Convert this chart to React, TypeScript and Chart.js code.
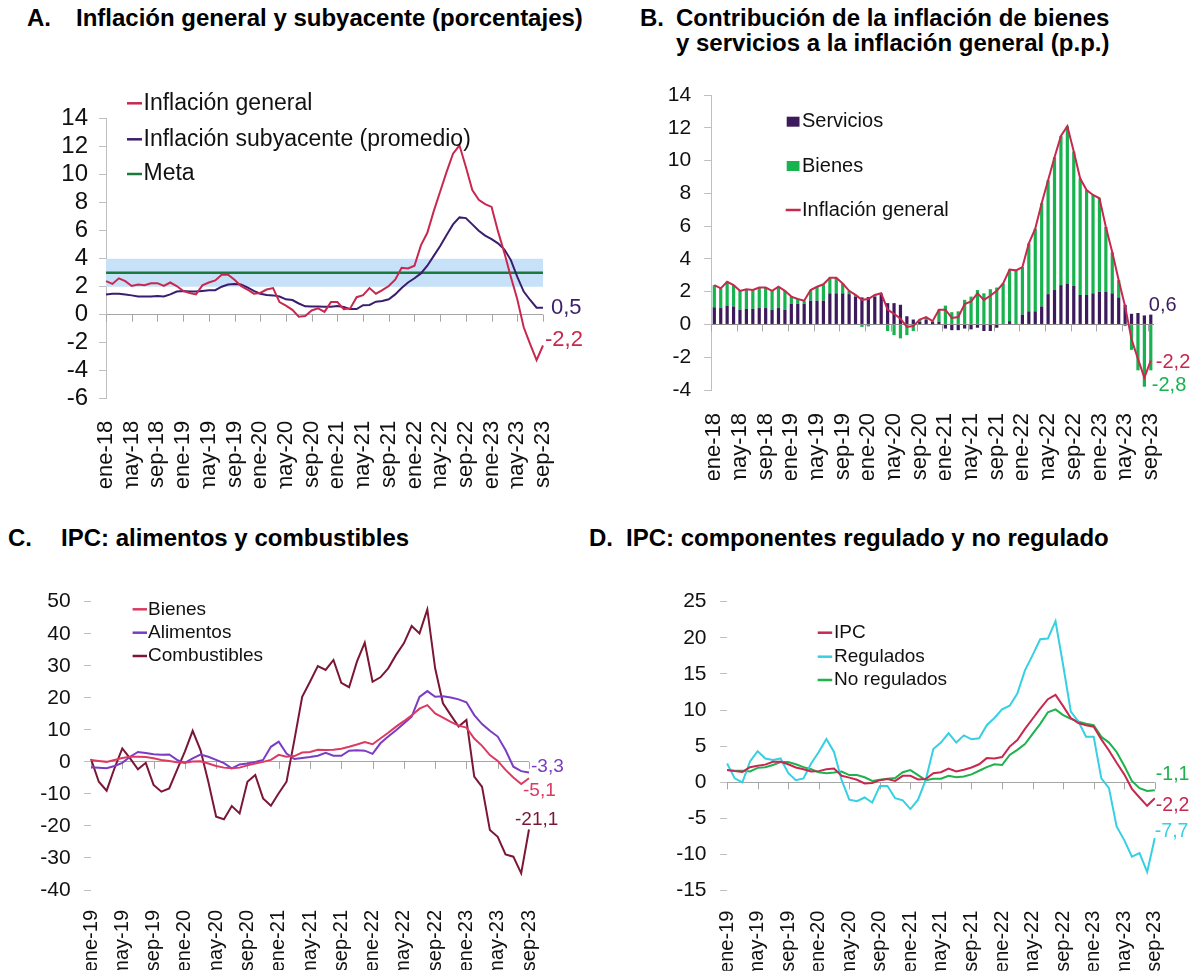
import React, { useEffect, useRef } from 'react';
import { Chart, registerables } from 'chart.js';

Chart.register(...registerables);

const FONT = '"Liberation Sans", Arial, Helvetica, sans-serif';

// ---------- categories ----------
const MONTH_ABBR = ['ene', 'feb', 'mar', 'abr', 'may', 'jun', 'jul', 'ago', 'sep', 'oct', 'nov', 'dic'];
function buildMonths(startYear: number, endYear: number, endMonthIdx: number): string[] {
  const out: string[] = [];
  for (let y = startYear; y <= endYear; y++) {
    const last = y === endYear ? endMonthIdx : 11;
    for (let m = 0; m <= last; m++) out.push(`${MONTH_ABBR[m]}-${String(y).slice(2)}`);
  }
  return out;
}
const monthsAB = buildMonths(2018, 2023, 8); // ene-18 .. sep-23
const monthsCD = buildMonths(2019, 2023, 8); // ene-19 .. sep-23

// ---------- Panel A / B data ----------
const headline = [
  2.4, 2.2, 2.6, 2.4, 2.05, 2.15, 2.1, 2.25, 2.25, 2.05, 2.3, 2.05,
  1.7, 1.55, 1.45, 2.1, 2.3, 2.45, 2.85, 2.85, 2.5, 2.05, 1.8, 1.5,
  1.55, 1.8, 1.9, 0.9, 0.65, 0.35, -0.15, -0.1, 0.3, 0.45, 0.2, 0.9,
  0.9, 0.4, 0.45, 1.25, 1.4, 1.9, 1.5, 1.75, 2.05, 2.5, 3.35, 3.3,
  3.5, 4.95, 5.85, 7.4, 8.8, 10.2, 11.5, 12.1, 10.55, 8.9, 8.2, 7.9,
  7.7, 5.95, 4.4, 2.7, 1.1, -0.9, -2.1, -3.25, -2.2,
];
const core = [
  1.45, 1.5, 1.5, 1.45, 1.38, 1.3, 1.3, 1.3, 1.33, 1.3, 1.45, 1.65,
  1.7, 1.65, 1.65, 1.7, 1.75, 1.75, 2.0, 2.15, 2.2, 2.15, 1.95, 1.7,
  1.5, 1.4, 1.38, 1.3, 1.1, 1.05, 0.8, 0.6, 0.58, 0.58, 0.57, 0.57,
  0.62, 0.55, 0.4, 0.4, 0.68, 0.7, 0.93, 0.98, 1.1, 1.45, 1.9, 2.3,
  2.6, 2.95, 3.5, 4.2, 4.9, 5.7, 6.45, 6.95, 6.9, 6.45, 6.0, 5.65,
  5.4, 5.1, 4.65, 3.9, 2.7, 1.65, 1.05, 0.5, 0.5,
];
const META_TARGET = 3;
const TOLERANCE_LOW = 2;
const TOLERANCE_HIGH = 4;

const servicios = [
  1.05, 1.0, 1.15, 1.1, 0.9, 0.95, 0.95, 1.0, 1.0, 0.9, 1.0, 0.9,
  1.25, 1.25, 1.25, 1.45, 1.45, 1.45, 1.9, 1.9, 1.9, 1.85, 1.7, 1.65,
  1.67, 1.7, 1.85, 1.3, 1.3, 1.2, 0.5, 0.3, 0.15, 0.3, 0.15, 0.15,
  -0.25, -0.35, -0.35, -0.25, -0.3, -0.2, -0.4, -0.4, -0.2, 0.0, 0.2, 0.0,
  0.6, 0.8, 0.8, 1.1, 1.85, 2.1, 2.4, 2.5, 2.35, 1.8, 1.8, 1.9,
  2.0, 2.0, 1.9, 1.65, 1.2, 0.65, 0.7, 0.55, 0.6,
];
const bienesContrib = [
  1.35, 1.2, 1.45, 1.3, 1.15, 1.2, 1.15, 1.25, 1.25, 1.15, 1.3, 1.15,
  0.45, 0.3, 0.2, 0.65, 0.85, 1.0, 0.95, 0.95, 0.6, 0.2, 0.1, -0.15,
  -0.12, 0.1, 0.05, -0.4, -0.65, -0.85, -0.65, -0.4, 0.15, 0.15, 0.05, 0.75,
  1.15, 0.75, 0.8, 1.5, 1.7, 2.1, 1.9, 2.15, 2.25, 2.5, 3.15, 3.3,
  2.9, 4.15, 5.05, 6.3, 6.95, 8.1, 9.1, 9.6, 8.2, 7.1, 6.4, 6.0,
  5.7, 3.95, 2.5, 1.05, -0.1, -1.55, -2.8, -3.8, -2.8,
];

// ---------- Panel C data ----------
const bienesC = [
  0.6, 0.3, 0.0, 0.6, 1.2, 1.6, 1.6, 1.5, 1.1, 0.6, 0.3, -0.1,
  -0.3, 0.1, 0.2, -0.5, -1.3, -1.8, -2.0, -1.8, -1.1, -0.5, 0.0, 0.6,
  2.2, 1.6, 1.8, 2.9, 3.1, 3.8, 3.7, 3.8, 4.1, 4.7, 5.4, 6.2,
  5.5, 7.3, 9.1, 11.0, 12.7, 14.5, 16.6, 17.7, 15.1, 13.8, 12.5, 11.3,
  10.7, 7.3, 5.0, 2.1, 0.3, -2.5, -4.9, -6.9, -5.1,
];
const alimentos = [
  -1.7, -1.8, -2.0, -1.3, -0.3, 1.6, 3.1, 2.8, 2.4, 2.2, 2.3, 0.6,
  -0.3, 1.1, 2.3, 1.6, 0.6, -0.4, -2.0, -0.8, -0.5, 0.0, 0.6, 4.7,
  6.3, 2.6, 0.9, 1.2, 1.5, 1.9, 2.8, 1.9, 1.9, 3.5, 3.6, 3.5,
  2.5, 5.8, 7.9, 9.9, 12.0, 14.1, 20.3, 22.1, 20.3, 20.5, 20.1, 19.5,
  18.6, 14.6, 11.8, 9.7, 7.9, 3.7, -1.5, -2.9, -3.3,
];
const combustibles = [
  0.9, -6.2, -9.0, -2.0, 4.2, 1.1, -2.3, -0.3, -7.2, -9.3, -8.3, -2.5,
  3.2, 9.7, 3.7, -6.2, -17.1, -17.9, -13.8, -16.1, -6.2, -4.1, -11.4, -13.7,
  -9.8, -6.2, 6.8, 20.3, 25.0, 29.9, 28.7, 31.8, 24.7, 23.3, 31.3, 37.2,
  25.0, 26.4, 29.2, 33.4, 37.0, 42.4, 40.1, 47.6, 29.2, 18.3, 14.6, 11.0,
  13.1, -4.6, -7.8, -21.3, -23.4, -28.9, -29.6, -34.8, -21.1,
];

// ---------- Panel D data ----------
const ipc = [
  1.7, 1.55, 1.45, 2.1, 2.3, 2.45, 2.85, 2.85, 2.5, 2.05, 1.8, 1.5,
  1.55, 1.8, 1.9, 0.9, 0.65, 0.35, -0.15, -0.1, 0.3, 0.45, 0.2, 0.9,
  0.9, 0.4, 0.45, 1.25, 1.4, 1.9, 1.5, 1.75, 2.05, 2.5, 3.35, 3.3,
  3.5, 4.95, 5.85, 7.4, 8.8, 10.2, 11.5, 12.1, 10.55, 8.9, 8.2, 7.9,
  7.7, 5.95, 4.4, 2.7, 1.1, -0.9, -2.1, -3.25, -2.2,
];
const regulados = [
  2.6, 0.55, 0.0, 2.9, 4.3, 3.3, 3.1, 3.3, 1.3, 0.3, 0.55, 2.6,
  4.2, 6.0, 4.2, 0.3, -2.4, -2.6, -2.1, -2.8, -0.5, -0.5, -2.2, -2.5,
  -3.7, -2.4, 0.3, 4.6, 5.5, 6.8, 5.5, 6.5, 5.95, 6.1, 7.9, 8.9,
  10.1, 10.6, 12.3, 15.5, 17.6, 19.8, 19.9, 22.3, 16.2, 9.8, 8.4, 6.3,
  6.3, 0.55, -0.8, -6.1, -8.0, -10.3, -9.8, -12.4, -7.7,
];
const noRegulados = [
  1.7, 1.6, 1.6, 1.5, 2.0, 2.1, 2.4, 2.8, 2.8, 2.5, 2.1, 1.8,
  1.4, 1.25, 1.35, 1.5, 1.0, 1.0, 0.7, 0.2, 0.35, 0.5, 0.6, 1.4,
  1.7, 1.0, 0.3, 0.5, 0.5, 0.9, 0.7, 0.8, 1.1, 1.6, 2.1, 2.5,
  2.4, 3.8, 4.5, 5.3, 6.7, 8.1, 9.7, 10.1, 9.3, 8.8, 8.4, 8.1,
  7.9, 6.3, 5.5, 4.2, 2.3, 0.2, -0.8, -1.2, -1.1,
];

// ---------- colours ----------
const RED = '#c8284f';
const CORE_PURPLE = '#3a1d6e';
const META_GREEN = '#1b7a3b';
const BAND_BLUE = '#c7e1f9';
const SERV_PURPLE = '#3c1a5b';
const BIEN_GREEN = '#17b34f';
const C_BIEN = '#dc3a62';
const C_ALIM = '#7a3cc4';
const C_COMB = '#7b1634';
const D_REG = '#35d0e2';
const D_NOREG = '#1db24c';
const TEXT = '#111111';
const TICK_GRAY = '#bfbfbf';

const fmt = (v: number) => v.toFixed(1).replace('.', ',');

type LegendItem = { ds: number; type: 'line' | 'box'; y: number; x: number; w: number };
type OverlayCfg = {
  legend?: { textX: number; boxH: number; font: number; items: LegendItem[] };
  endLabels?: { ds: number; dx: number; dy: number }[];
  endFont?: number;
  zeroTicks?: { every: number; length: number; color: string; shift: number };
};

function makeOverlay(cfg: OverlayCfg) {
  return {
    id: 'overlay',
    beforeDatasetsDraw(chart: any) {
      const zt = cfg.zeroTicks;
      if (!zt) return;
      const xs = chart.scales.x;
      const ys = chart.scales.y;
      const n = chart.data.labels.length;
      const step = n > 1 ? xs.getPixelForValue(1) - xs.getPixelForValue(0) : 0;
      const y0 = ys.getPixelForValue(0);
      const ctx = chart.ctx;
      ctx.save();
      ctx.strokeStyle = zt.color;
      ctx.lineWidth = 1;
      ctx.beginPath();
      for (let i = 0; i < n; i += zt.every) {
        const x = Math.round(xs.getPixelForValue(i) + zt.shift * step) + 0.5;
        ctx.moveTo(x, y0);
        ctx.lineTo(x, y0 + zt.length);
      }
      ctx.stroke();
      ctx.restore();
    },
    afterDatasetsDraw(chart: any) {
      const ctx = chart.ctx;
      const lg = cfg.legend;
      if (lg) {
        ctx.save();
        ctx.font = `${lg.font}px ${FONT}`;
        ctx.textBaseline = 'middle';
        ctx.textAlign = 'left';
        for (const it of lg.items) {
          const d = chart.data.datasets[it.ds];
          if (it.type === 'box') {
            ctx.fillStyle = d.backgroundColor;
            ctx.fillRect(it.x, it.y - lg.boxH / 2, it.w, lg.boxH);
          } else {
            ctx.strokeStyle = d.borderColor;
            ctx.lineWidth = 2.5;
            ctx.beginPath();
            ctx.moveTo(it.x, it.y);
            ctx.lineTo(it.x + it.w, it.y);
            ctx.stroke();
          }
          ctx.fillStyle = TEXT;
          ctx.fillText(d.label, lg.textX, it.y);
        }
        ctx.restore();
      }
      if (cfg.endLabels) {
        ctx.save();
        ctx.font = `${cfg.endFont || 19}px ${FONT}`;
        ctx.textBaseline = 'middle';
        ctx.textAlign = 'left';
        const ys = chart.scales.y;
        for (const el of cfg.endLabels) {
          const d = chart.data.datasets[el.ds];
          const meta = chart.getDatasetMeta(el.ds);
          const last = d.data.length - 1;
          const v = d.data[last] as number;
          const x = meta.data[last].x;
          const y = ys.getPixelForValue(v);
          ctx.fillStyle = d.type === 'line' || chart.config.type === 'line' ? d.borderColor : d.backgroundColor;
          ctx.fillText(fmt(v), x + el.dx, y + el.dy);
        }
        ctx.restore();
      }
    },
  };
}

function yScaleCfg(o: {
  min: number; max: number; step: number; font: number; tickLength: number; padding: number;
  border: boolean; zeroColor: string;
}) {
  return {
    min: o.min,
    max: o.max,
    ticks: {
      stepSize: o.step,
      autoSkip: false,
      font: { family: FONT, size: o.font },
      color: TEXT,
      padding: o.padding,
      callback: (v: any) => String(v),
    },
    grid: {
      drawOnChartArea: true,
      color: (c: any) => (c.tick && c.tick.value === 0 ? o.zeroColor : 'rgba(0,0,0,0)'),
      tickColor: TICK_GRAY,
      tickLength: o.tickLength,
      lineWidth: 1,
    },
    border: { display: o.border, color: TICK_GRAY, width: 1 },
    afterFit: (s: any) => {
      s.width = 50;
      s.paddingTop = 0;
      s.paddingBottom = 0;
    },
  };
}

function xScaleCfg(o: { labels: string[]; font: number; padding: number; height: number; offset: boolean; stacked?: boolean }) {
  return {
    type: 'category',
    offset: o.offset,
    stacked: !!o.stacked,
    ticks: {
      autoSkip: false,
      maxRotation: 90,
      minRotation: 90,
      font: { family: FONT, size: o.font },
      color: TEXT,
      padding: o.padding,
      callback: (_v: any, i: number) => (i % 4 === 0 ? o.labels[i] : ''),
    },
    grid: { display: false },
    border: { display: false },
    afterFit: (s: any) => {
      s.height = o.height;
      s.paddingLeft = 0;
      s.paddingRight = 0;
    },
  };
}

const baseOptions = (padding: any) => ({
  responsive: false,
  animation: false as const,
  devicePixelRatio: 1,
  events: [] as any[],
  layout: { padding },
  elements: { point: { radius: 0 }, line: { tension: 0 } },
  plugins: { legend: { display: false }, tooltip: { enabled: false }, title: { display: false } },
});

// ---------- chart configs ----------
function configA() {
  const first = monthsAB[0];
  const last = monthsAB[monthsAB.length - 1];
  return {
    type: 'line',
    data: {
      labels: monthsAB,
      datasets: [
        { label: 'Inflación general', data: headline, borderColor: RED, borderWidth: 2, order: 0 },
        { label: 'Inflación subyacente (promedio)', data: core, borderColor: CORE_PURPLE, borderWidth: 2, order: 1 },
        {
          label: 'Meta',
          data: [{ x: first, y: META_TARGET }, { x: last, y: META_TARGET }],
          borderColor: META_GREEN, borderWidth: 2.5, order: 2,
        },
        {
          label: 'Rango',
          data: [{ x: first, y: TOLERANCE_HIGH }, { x: last, y: TOLERANCE_HIGH }],
          borderColor: 'rgba(0,0,0,0)', borderWidth: 0, backgroundColor: BAND_BLUE,
          fill: { value: TOLERANCE_LOW }, order: 3,
        },
      ],
    },
    options: {
      ...baseOptions({ left: 56, right: 57, top: 58.7, bottom: 11.3 }),
      scales: {
        x: xScaleCfg({ labels: monthsAB, font: 22, padding: 14, height: 90, offset: false }),
        y: yScaleCfg({ min: -6, max: 14, step: 2, font: 24, tickLength: 7, padding: 11, border: true, zeroColor: '#a6a6a6' }),
      },
    },
    plugins: [
      makeOverlay({
        zeroTicks: { every: 4, length: 7, color: '#a6a6a6', shift: 0 },
        legend: {
          textX: 143.5, boxH: 10, font: 23,
          items: [
            { ds: 0, type: 'line', x: 127, w: 15, y: 43.3 },
            { ds: 1, type: 'line', x: 127, w: 15, y: 79.3 },
            { ds: 2, type: 'line', x: 127, w: 15, y: 114 },
          ],
        },
        endFont: 22,
        endLabels: [
          { ds: 1, dx: 8, dy: 0 },
          { ds: 0, dx: 2, dy: -5.5 },
        ],
      }),
    ],
  };
}

function configB() {
  return {
    type: 'bar',
    data: {
      labels: monthsAB,
      datasets: [
        { type: 'bar', label: 'Servicios', data: servicios, backgroundColor: SERV_PURPLE, stack: 'contrib', order: 1, categoryPercentage: 1, barPercentage: 0.5 },
        { type: 'bar', label: 'Bienes', data: bienesContrib, backgroundColor: BIEN_GREEN, stack: 'contrib', order: 1, categoryPercentage: 1, barPercentage: 0.5 },
        { type: 'line', label: 'Inflación general', data: headline, borderColor: RED, borderWidth: 2, stack: 'line', order: 0, pointRadius: 0 },
      ],
    },
    options: {
      ...baseOptions({ left: 61.1, right: 47, top: 25, bottom: 30 }),
      scales: {
        x: xScaleCfg({ labels: monthsAB, font: 22, padding: 15, height: 90, offset: true, stacked: true }),
        y: { ...yScaleCfg({ min: -4, max: 14, step: 2, font: 21, tickLength: 7, padding: 13, border: true, zeroColor: '#8c8c8c' }), stacked: true },
      },
    },
    plugins: [
      makeOverlay({
        zeroTicks: { every: 4, length: 7, color: '#a6a6a6', shift: -0.5 },
        legend: {
          textX: 202, boxH: 10, font: 20,
          items: [
            { ds: 0, type: 'box', x: 186.7, w: 12.8, y: 51.7 },
            { ds: 1, type: 'box', x: 186.7, w: 12.8, y: 96 },
            { ds: 2, type: 'line', x: 185.7, w: 15, y: 140 },
          ],
        },
        endFont: 20,
        endLabels: [
          { ds: 0, dx: -2, dy: -9.5 },
          { ds: 2, dx: 5, dy: 2 },
          { ds: 1, dx: 1, dy: 15 },
        ],
      }),
    ],
  };
}

function configC() {
  return {
    type: 'line',
    data: {
      labels: monthsCD,
      datasets: [
        { label: 'Bienes', data: bienesC, borderColor: C_BIEN, borderWidth: 2 },
        { label: 'Alimentos', data: alimentos, borderColor: C_ALIM, borderWidth: 2 },
        { label: 'Combustibles', data: combustibles, borderColor: C_COMB, borderWidth: 2 },
      ],
    },
    options: {
      ...baseOptions({ left: 41, right: 71, top: 31.7, bottom: 6 }),
      scales: {
        x: xScaleCfg({ labels: monthsCD, font: 20, padding: 12, height: 80, offset: false }),
        y: yScaleCfg({ min: -40, max: 50, step: 10, font: 21, tickLength: 7, padding: 13.4, border: false, zeroColor: '#a6a6a6' }),
      },
    },
    plugins: [
      makeOverlay({
        zeroTicks: { every: 4, length: 7, color: '#a6a6a6', shift: 0 },
        legend: {
          textX: 148, boxH: 10, font: 19,
          items: [
            { ds: 0, type: 'line', x: 132.6, w: 14.4, y: 39.3 },
            { ds: 1, type: 'line', x: 132.6, w: 14.4, y: 62.7 },
            { ds: 2, type: 'line', x: 132.6, w: 14.4, y: 86 },
          ],
        },
        endFont: 19,
        endLabels: [
          { ds: 1, dx: 2, dy: -5.6 },
          { ds: 0, dx: -6, dy: 12.6 },
          { ds: 2, dx: -14, dy: -9.4 },
        ],
      }),
    ],
  };
}

function configD() {
  return {
    type: 'line',
    data: {
      labels: monthsCD,
      datasets: [
        { label: 'IPC', data: ipc, borderColor: RED, borderWidth: 2 },
        { label: 'Regulados', data: regulados, borderColor: D_REG, borderWidth: 2 },
        { label: 'No regulados', data: noRegulados, borderColor: D_NOREG, borderWidth: 2 },
      ],
    },
    options: {
      ...baseOptions({ left: 77.1, right: 46.2, top: 31.7, bottom: 5.3 }),
      scales: {
        x: xScaleCfg({ labels: monthsCD, font: 20, padding: 12, height: 80, offset: false }),
        y: yScaleCfg({ min: -15, max: 25, step: 5, font: 21, tickLength: 7, padding: 13.6, border: false, zeroColor: '#a6a6a6' }),
      },
    },
    plugins: [
      makeOverlay({
        zeroTicks: { every: 4, length: 7, color: '#a6a6a6', shift: 0 },
        legend: {
          textX: 234, boxH: 10, font: 19,
          items: [
            { ds: 0, type: 'line', x: 217.7, w: 14.5, y: 62.7 },
            { ds: 1, type: 'line', x: 217.7, w: 14.5, y: 86.7 },
            { ds: 2, type: 'line', x: 217.7, w: 14.5, y: 110 },
          ],
        },
        endFont: 19.5,
        endLabels: [
          { ds: 2, dx: 1, dy: -16 },
          { ds: 0, dx: 1, dy: 7 },
          { ds: 1, dx: 0, dy: -6 },
        ],
      }),
    ],
  };
}

function ChartCanvas(props: { left: number; top: number; width: number; height: number; make: () => any }) {
  const ref = useRef<HTMLCanvasElement | null>(null);
  useEffect(() => {
    if (!ref.current) return;
    const chart = new Chart(ref.current, props.make());
    return () => chart.destroy();
  }, []);
  return (
    <canvas
      ref={ref}
      width={props.width}
      height={props.height}
      style={{ position: 'absolute', left: props.left, top: props.top, display: 'block' }}
    />
  );
}

const titleStyle: React.CSSProperties = {
  position: 'absolute',
  fontFamily: FONT,
  fontWeight: 'bold',
  fontSize: 24,
  lineHeight: '24px',
  color: '#000',
  whiteSpace: 'nowrap',
  margin: 0,
};

function Title(props: { left: number; top: number; text: string }) {
  return <div style={{ ...titleStyle, left: props.left, top: props.top }}>{props.text}</div>;
}

export default function App() {
  return (
    <div style={{ position: 'absolute', left: 0, top: 0, width: 1201, height: 976, background: '#fff', overflow: 'hidden' }}>
      <Title left={27} top={6} text="A." />
      <Title left={76} top={6} text="Inflación general y subyacente (porcentajes)" />
      <Title left={640} top={6} text="B." />
      <Title left={676} top={6} text="Contribución de la inflación de bienes" />
      <Title left={676} top={31} text="y servicios a la inflación general (p.p.)" />
      <Title left={8} top={526} text="C." />
      <Title left={61} top={526} text="IPC: alimentos y combustibles" />
      <Title left={589} top={526} text="D." />
      <Title left={626} top={526} text="IPC: componentes regulado y no regulado" />

      <ChartCanvas left={0} top={60} width={600} height={440} make={configA} />
      <ChartCanvas left={600} top={70} width={601} height={440} make={configB} />
      <ChartCanvas left={0} top={570} width={600} height={406} make={configC} />
      <ChartCanvas left={600} top={570} width={601} height={406} make={configD} />
    </div>
  );
}
